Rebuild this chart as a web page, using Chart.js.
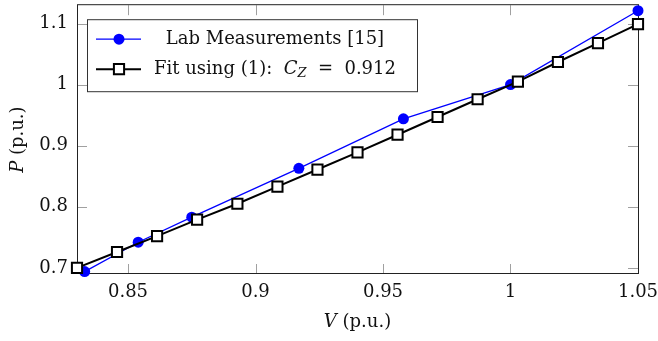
<!DOCTYPE html>
<html>
<head>
<meta charset="utf-8">
<script src="https://cdn.jsdelivr.net/npm/chart.js@4/dist/chart.umd.min.js"></script>
<style>
  html, body { margin: 0; padding: 0; background: #fff; overflow: hidden; }
  /* chart.js keeps ~4px above the chart area, so the canvas is lifted by that */
  #chart { display: block; margin-top: -4px; }
</style>
</head>
<body>
<canvas id="chart" width="658" height="345"></canvas>
<script>
// lab measurements [15]
const vLab = [0.833, 0.854, 0.875, 0.917, 0.958, 1.0, 1.05];
const pLab = [0.694, 0.742, 0.783, 0.863, 0.944, 1.0, 1.121];
// fit using (1), C_Z = 0.912
const vFit = [0.83, 0.8457, 0.8614, 0.8771, 0.8929, 0.9086, 0.9243, 0.94, 0.9557, 0.9714, 0.9871, 1.0029, 1.0186, 1.0343, 1.05];
const pFit = [0.700, 0.726, 0.752, 0.779, 0.805, 0.833, 0.861, 0.889, 0.918, 0.947, 0.976, 1.005, 1.037, 1.068, 1.099];

const xTicks = [0.85, 0.9, 0.95, 1, 1.05];
const yTicks = [0.7, 0.8, 0.9, 1, 1.1];

const serif = '"DejaVu Serif", "Liberation Serif", serif';
const fontPx = 18;

const toPoints = (xs, ys) => xs.map((x, i) => ({ x: x, y: ys[i] }));

// no extra room for half tick labels, the chart area is fixed by hand
const noPad = s => { s.paddingTop = 0; s.paddingBottom = 0; s.paddingLeft = 0; s.paddingRight = 0; };

// box, inward ticks, axis titles and legend, pgfplots style
const frame = {
  id: 'frame',
  beforeDatasetsDraw(chart) {
    const { ctx, chartArea: a, scales } = chart;
    ctx.save();
    ctx.strokeStyle = '#a0a0a0';
    ctx.lineWidth = 1;
    const tl = 10;
    xTicks.forEach(v => {
      const px = Math.round(scales.x.getPixelForValue(v)) + 0.5;
      ctx.beginPath();
      ctx.moveTo(px, a.bottom); ctx.lineTo(px, a.bottom - tl);
      ctx.moveTo(px, a.top); ctx.lineTo(px, a.top + tl);
      ctx.stroke();
    });
    yTicks.forEach(v => {
      const py = Math.round(scales.y.getPixelForValue(v)) + 0.5;
      ctx.beginPath();
      ctx.moveTo(a.left, py); ctx.lineTo(a.left + tl, py);
      ctx.moveTo(a.right, py); ctx.lineTo(a.right - tl, py);
      ctx.stroke();
    });
    ctx.strokeStyle = '#222';
    ctx.strokeRect(a.left + 0.5, a.top - 0.5, a.right - a.left, a.bottom - a.top);
    ctx.restore();
  },
  afterDraw(chart) {
    const { ctx, chartArea: a } = chart;
    ctx.save();
    ctx.textBaseline = 'middle';

    const drawMixed = (parts, cx, cy) => {
      let w = 0;
      parts.forEach(p => { ctx.font = p.f; w += ctx.measureText(p.t).width; });
      let x = cx - w / 2;
      ctx.textAlign = 'left';
      parts.forEach(p => {
        ctx.font = p.f;
        ctx.fillText(p.t, x, cy + (p.dy || 0));
        x += ctx.measureText(p.t).width;
      });
    };
    const it = 'italic ' + fontPx + 'px ' + serif;
    const rm = fontPx + 'px ' + serif;

    // axis titles
    ctx.fillStyle = '#111';
    drawMixed([{ t: 'V', f: it }, { t: ' (p.u.)', f: rm }], (a.left + a.right) / 2, a.bottom + 48);
    ctx.save();
    ctx.translate(18, (a.top + a.bottom) / 2);
    ctx.rotate(-Math.PI / 2);
    drawMixed([{ t: 'P', f: it }, { t: ' (p.u.)', f: rm }], 0, 0);
    ctx.restore();

    // legend box
    const bx = a.left + 10, by = a.top + 14, bw = 330, bh = 72;
    ctx.fillStyle = '#fff';
    ctx.fillRect(bx, by, bw, bh);
    ctx.strokeStyle = '#333';
    ctx.lineWidth = 1;
    ctx.strokeRect(bx + 0.5, by + 0.5, bw, bh);

    const rows = [by + 20, by + 50];
    const ds = chart.data.datasets;
    rows.forEach((ry, i) => {
      const d = ds[i];
      ctx.strokeStyle = d.borderColor;
      ctx.lineWidth = d.borderWidth;
      ctx.beginPath();
      ctx.moveTo(bx + 9, ry); ctx.lineTo(bx + 54, ry);
      ctx.stroke();
      ctx.fillStyle = d.pointBackgroundColor;
      ctx.strokeStyle = d.pointBorderColor;
      ctx.lineWidth = d.pointBorderWidth;
      Chart.helpers.drawPoint(ctx, {
        pointStyle: d.pointStyle,
        radius: d.pointRadius,
        borderWidth: d.pointBorderWidth
      }, bx + 32, ry);
    });

    ctx.fillStyle = '#111';
    const cx = bx + 188;
    drawMixed([{ t: ds[0].label, f: rm }], cx, rows[0]);
    drawMixed([
      { t: 'Fit using (1):  ', f: rm },
      { t: 'C', f: it },
      { t: 'Z', f: 'italic ' + Math.round(fontPx * 0.72) + 'px ' + serif, dy: 4 },
      { t: '  =  0.912', f: rm }
    ], cx, rows[1]);
    ctx.restore();
  }
};

new Chart(document.getElementById('chart'), {
  type: 'scatter',
  data: {
    datasets: [{
      label: 'Lab Measurements [15]',
      data: toPoints(vLab, pLab),
      showLine: true,
      borderColor: '#0000ff',
      backgroundColor: '#0000ff',
      borderWidth: 1.3,
      pointStyle: 'circle',
      pointRadius: 5.5,
      pointBorderWidth: 0,
      pointBackgroundColor: '#0000ff',
      pointBorderColor: '#0000ff',
      clip: false,
      order: 2
    }, {
      label: 'Fit using (1): C_Z = 0.912',
      data: toPoints(vFit, pFit),
      showLine: true,
      borderColor: '#000',
      backgroundColor: '#fff',
      borderWidth: 2,
      pointStyle: 'rect',
      pointRadius: 7.2,
      pointBorderWidth: 2,
      pointBackgroundColor: '#fff',
      pointBorderColor: '#000',
      clip: false,
      order: 1
    }]
  },
  options: {
    responsive: false,
    animation: false,
    layout: { padding: { left: 0, right: 20, top: 1, bottom: 0 } },
    plugins: { legend: { display: false }, tooltip: { enabled: false } },
    scales: {
      x: {
        type: 'linear',
        min: 0.83,
        max: 1.05,
        afterFit: s => { s.height = 67; noPad(s); },
        afterBuildTicks: s => { s.ticks = xTicks.map(v => ({ value: v })); },
        grid: { display: false, drawTicks: false },
        border: { display: false },
        ticks: {
          padding: 8,
          color: '#111',
          font: { family: serif, size: fontPx },
          maxRotation: 0,
          callback: v => String(v)
        }
      },
      y: {
        type: 'linear',
        min: 0.69,
        max: 1.13,
        afterFit: s => { s.width = 77; noPad(s); },
        afterBuildTicks: s => { s.ticks = yTicks.map(v => ({ value: v })); },
        grid: { display: false, drawTicks: false },
        border: { display: false },
        ticks: {
          padding: 9,
          color: '#111',
          font: { family: serif, size: fontPx },
          callback: v => String(v)
        }
      }
    }
  },
  plugins: [frame]
});
</script>
</body>
</html>
